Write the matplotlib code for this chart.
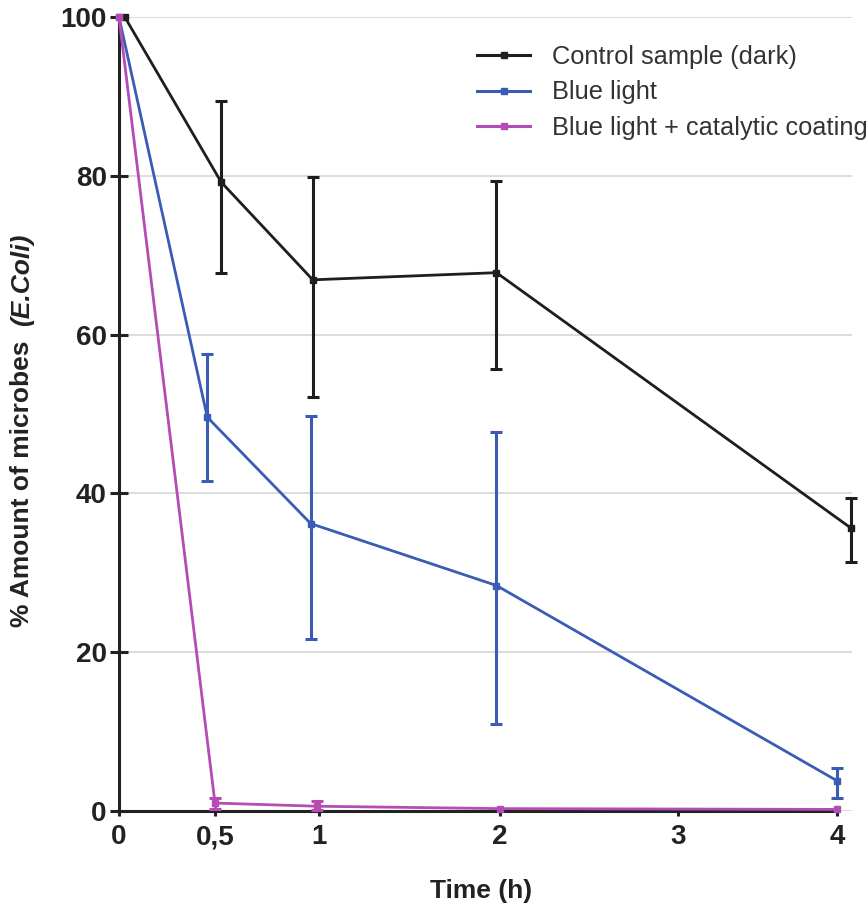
import numpy as np
import matplotlib
matplotlib.use("Agg")
import matplotlib.pyplot as plt
from matplotlib.lines import Line2D

# ---------------- data ----------------
series_labels = ["Control sample (dark)", "Blue light", "Blue light + catalytic coating"]

control_t = [0.03, 0.53, 0.97, 1.98, 4.08]
control_y = [100, 79.2, 66.9, 67.8, 35.6]
control_hi = [100, 89.4, 79.8, 79.4, 39.4]
control_lo = [100, 67.8, 52.2, 55.7, 31.3]

blue_t = [0.0, 0.46, 0.96, 1.98, 4.0]
blue_y = [100, 49.6, 36.2, 28.4, 3.8]
blue_hi = [100, 57.6, 49.8, 47.7, 5.4]
blue_lo = [100, 41.5, 21.6, 11.0, 1.6]

coat_t = [0.0, 0.5, 0.99, 2.0, 4.0]
coat_y = [100, 1.0, 0.6, 0.3, 0.2]
coat_hi = [100, 1.7, 1.2, 0.3, 0.2]
coat_lo = [100, 0.2, 0.1, 0.3, 0.2]

x_ticks = [0, 0.5, 1, 2, 3, 4]
x_ticklabels = ["0", "0,5", "1", "2", "3", "4"]
y_ticks = [0, 20, 40, 60, 80, 100]

# ---------------- the (non-uniform) time axis of the original ----------------
AXIS_T = [0, 0.5, 1, 2, 3, 4, 5]
AXIS_U = [0, 0.533, 1.111, 2.117, 3.106, 3.989, 4.972]


def fwd(t):
    return np.interp(t, AXIS_T, AXIS_U)


def inv(u):
    return np.interp(u, AXIS_U, AXIS_T)


FONT = "Liberation Sans"
colors = ["#1e1e1e", "#3b5cb6", "#b54cb6"]

fig = plt.figure(figsize=(8.68, 9.07), dpi=100)
ax = fig.add_axes([119 / 868, 96 / 907, 733 / 868, 794 / 907])
ax.set_xscale("function", functions=(fwd, inv))
ax.set_xlim(0, 4.084)
ax.set_ylim(0, 100)

ax.grid(axis="y", color="#d9d9d9", linewidth=1.3, zorder=0)
ax.set_axisbelow(True)

for sp in ["top", "right"]:
    ax.spines[sp].set_visible(False)
for sp in ["left", "bottom"]:
    ax.spines[sp].set_linewidth(2.2)
    ax.spines[sp].set_color("#222222")
ax.spines["bottom"].set_bounds(0, 4)

allseries = [
    (control_t, control_y, control_hi, control_lo),
    (blue_t, blue_y, blue_hi, blue_lo),
    (coat_t, coat_y, coat_hi, coat_lo),
]

handles = []
for i, (t, y, hi, lo) in enumerate(allseries):
    t = np.array(t, float)
    y = np.array(y, float)
    hi = np.array(hi, float)
    lo = np.array(lo, float)
    c = colors[i]
    ax.plot(t, y, color=c, lw=2.0, marker="s", ms=4.5, zorder=4 + i, clip_on=False)
    m = hi > lo
    eb = ax.errorbar(t[m], y[m], yerr=[y[m] - lo[m], hi[m] - y[m]], fmt="none",
                     ecolor=c, elinewidth=2.2, capsize=4, capthick=2.2,
                     zorder=4 + i)
    for coll in eb.lines[2]:
        coll.set_clip_on(False)
    for cap in eb.lines[1]:
        cap.set_clip_on(False)
    handles.append(Line2D([], [], color=c, lw=2.2, marker="s", ms=5))

ax.set_xticks(x_ticks)
ax.set_xticklabels(x_ticklabels)
ax.set_yticks(y_ticks)
ax.tick_params(axis="x", direction="out", length=3.6, width=2.2, color="#222222",
               pad=6, labelsize=20, labelcolor="#222222")
ax.tick_params(axis="y", direction="inout", length=13.5, width=2.2, color="#222222",
               pad=2, labelsize=20, labelcolor="#222222")
for lab in ax.get_xticklabels() + ax.get_yticklabels():
    lab.set_fontfamily(FONT)
    lab.set_fontweight("bold")

ax.set_xlabel("Time (h)", fontsize=19, fontweight="bold", family=FONT,
              color="#222222")
ax.xaxis.set_label_coords(481 / 868, 28 / 907, transform=fig.transFigure)

# y label in two parts: regular bold + bold italic
renderer = fig.canvas.get_renderer()
y0 = (907 - 627) / 907
t1 = fig.text(22 / 868, y0, "% Amount of microbes", rotation=90, ha="center",
              va="bottom", fontsize=19, fontweight="bold", family=FONT,
              color="#222222")
bb = t1.get_window_extent(renderer)
gap = 15
t2 = fig.text(22 / 868, (bb.y1 + gap) / fig.bbox.height, "(E.Coli)", rotation=90,
              ha="center", va="bottom", fontsize=19, fontweight="bold",
              style="italic", family=FONT, color="#222222")

leg = ax.legend(handles, series_labels, loc="upper left",
                bbox_to_anchor=(477 / 868, (907 - 45) / 907),
                bbox_transform=fig.transFigure, frameon=False, borderpad=0,
                borderaxespad=0, handlelength=2.1, handletextpad=0.85,
                labelspacing=0.45, prop={"family": FONT, "size": 18.3})
for txt in leg.get_texts():
    txt.set_color("#333333")

fig.savefig("out.png", dpi=100)
